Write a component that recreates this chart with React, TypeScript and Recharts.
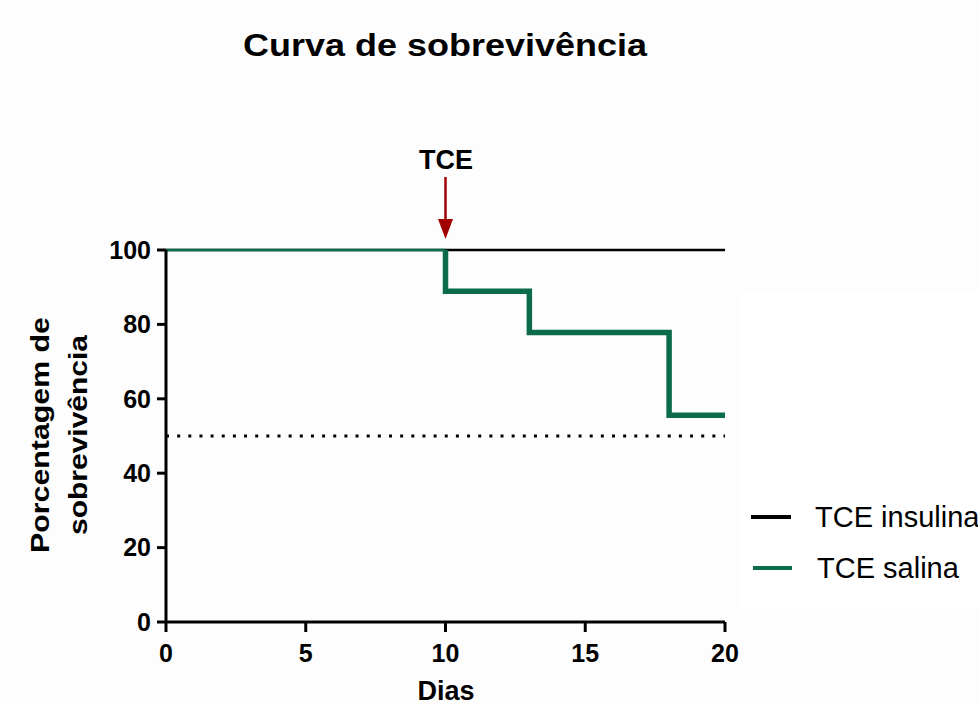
import React from 'react';
import { ComposedChart, Line, XAxis, YAxis, ReferenceLine } from 'recharts';

// Kaplan-Meier style survival data (days, % survival)
const insulinaDays = [0, 20];
const insulinaSurvival = [100, 100];
const salinaDays = [0, 10, 13, 18, 20];
const salinaSurvival = [100, 88.9, 77.8, 55.6, 55.6];
const injuryDay = 10; // TCE
const medianLine = 50;
const xTicks = [0, 5, 10, 15, 20];
const yTicks = [0, 20, 40, 60, 80, 100];

const insulinaData = insulinaDays.map((d, i) => ({ x: d, y: insulinaSurvival[i] }));
// thin part before the first event, thick part afterwards
const salinaBefore = [
  { x: salinaDays[0], y: salinaSurvival[0] },
  { x: injuryDay, y: salinaSurvival[0] },
];
const salinaAfter = [
  { x: injuryDay, y: salinaSurvival[0] },
  ...salinaDays.map((d, i) => ({ x: d, y: salinaSurvival[i] })).filter((p) => p.x >= injuryDay),
];

const GREEN = '#0b6b4b';
const FONT = '"Liberation Sans", Arial, Helvetica, sans-serif';

export default function App() {
  return (
    <div style={{ position: 'absolute', left: 0, top: 0, width: 978, height: 705, background: '#fdfdfd', fontFamily: FONT, overflow: 'hidden' }}>
      <svg width={978} height={705} style={{ position: 'absolute', left: 0, top: 0 }}>
        <rect x={742} y={292} width={236} height={316} fill="#ffffff" />
      </svg>
      <div style={{ position: 'absolute', left: 0, top: 0 }}>
        <ComposedChart
          width={978}
          height={705}
          margin={{ top: 250, right: 253, bottom: 43, left: 86 }}
        >
          <XAxis
            type="number"
            dataKey="x"
            domain={[0, 20]}
            ticks={xTicks}
            allowDuplicatedCategory={false}
            height={40}
            axisLine={{ stroke: '#000', strokeWidth: 3 }}
            tickLine={{ stroke: '#000', strokeWidth: 3 }}
            tickSize={10}
            tickMargin={12}
            tick={{ fontSize: 25, fontWeight: 'bold', fill: '#000', fontFamily: FONT }}
          />
          <YAxis
            type="number"
            domain={[0, 100]}
            ticks={yTicks}
            width={80}
            axisLine={{ stroke: '#000', strokeWidth: 3 }}
            tickLine={{ stroke: '#000', strokeWidth: 3 }}
            tickSize={9}
            tickMargin={6}
            tick={{ fontSize: 25, fontWeight: 'bold', fill: '#000', fontFamily: FONT }}
          />
          <ReferenceLine y={medianLine} stroke="#000" strokeWidth={3} strokeDasharray="3 8.15" />
          <Line
            data={insulinaData}
            dataKey="y"
            type="stepAfter"
            stroke="#000"
            strokeWidth={2.5}
            dot={false}
            activeDot={false}
            isAnimationActive={false}
          />
          <Line
            data={salinaBefore}
            dataKey="y"
            type="stepAfter"
            stroke={GREEN}
            strokeWidth={2.5}
            dot={false}
            activeDot={false}
            isAnimationActive={false}
          />
          <Line
            data={salinaAfter}
            dataKey="y"
            type="stepAfter"
            stroke={GREEN}
            strokeWidth={5.5}
            dot={false}
            activeDot={false}
            isAnimationActive={false}
          />
        </ComposedChart>
      </div>
      <svg width={978} height={705} style={{ position: 'absolute', left: 0, top: 0, pointerEvents: 'none' }}>
        <text x={445} y={56} textAnchor="middle" fontSize={32} fontWeight="bold" fill="#000" fontFamily={FONT} textLength={404} lengthAdjust="spacingAndGlyphs">
          Curva de sobrevivência
        </text>
        <g transform="translate(40,435) rotate(-90)">
          <text x={0} y={0} textAnchor="middle" dominantBaseline="central" fontSize={25} fontWeight="bold" fill="#000" fontFamily={FONT} textLength={236} lengthAdjust="spacingAndGlyphs">
            Porcentagem de
          </text>
        </g>
        <g transform="translate(78,435) rotate(-90)">
          <text x={0} y={0} textAnchor="middle" dominantBaseline="central" fontSize={25} fontWeight="bold" fill="#000" fontFamily={FONT} textLength={200} lengthAdjust="spacingAndGlyphs">
            sobrevivência
          </text>
        </g>
        <text x={446} y={700} textAnchor="middle" fontSize={27} fontWeight="bold" fill="#000" fontFamily={FONT}>
          Dias
        </text>
        <text x={446} y={169} textAnchor="middle" fontSize={27} fontWeight="bold" fill="#000" fontFamily={FONT}>
          TCE
        </text>
        <line x1={445.5} y1={177} x2={445.5} y2={221} stroke="#a00000" strokeWidth={2.5} />
        <polygon points="438,219 453,219 445.5,239" fill="#a00000" />
        <line x1={751} y1={517} x2={791} y2={517} stroke="#000" strokeWidth={4} />
        <text x={815} y={527} fontSize={29} fill="#000" fontFamily={FONT}>TCE insulina</text>
        <line x1={753} y1={568} x2={792} y2={568} stroke={GREEN} strokeWidth={4} />
        <text x={817} y={578} fontSize={29} fill="#000" fontFamily={FONT}>TCE salina</text>
      </svg>
    </div>
  );
}
